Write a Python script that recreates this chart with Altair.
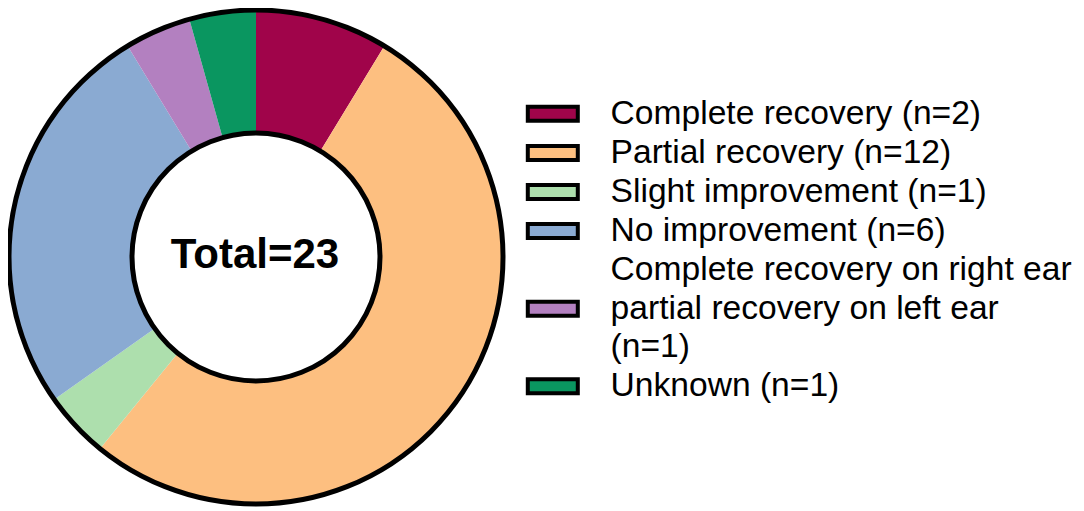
import altair as alt
import pandas as pd

categories = [
    "Complete recovery (n=2)",
    "Partial recovery (n=12)",
    "Slight improvement (n=1)",
    "No improvement (n=6)",
    "Complete recovery on right ear|partial recovery on left ear|(n=1)",
    "Unknown (n=1)",
]
counts = [2, 12, 1, 6, 1, 1]
colors = ["#A0044A", "#FDBF80", "#ADDFAD", "#8AAAD2", "#B380C0", "#0A9660"]
center_label = ["Total=23"]

# legend swatch shapes (the multi-line entry's swatch sits on its middle line)
swatch = "M-2,-0.56H2V0.56H-2Z"
swatch_mid = "M-2,2.52H2V3.64H-2Z"
shapes = [swatch, swatch, swatch, swatch, swatch_mid, swatch]

df = pd.DataFrame({"category": categories, "count": counts, "order": list(range(len(categories)))})

CX, CY = 248, 249
R_OUT, R_IN = 247, 124

legend_opts = dict(
    orient="none",
    legendX=528,
    legendY=89,
    title=None,
    padding=0,
    labelFont="Arial",
    labelFontSize=33.6,
    labelColor="black",
    labelLimit=600,
    labelExpr="split(datum.label, '|')",
    labelOffset=41,
    rowPadding=4.1,
    symbolSize=625,
    symbolStrokeWidth=4,
    symbolOpacity=1,
)

color_enc = alt.Color(
    "category:N",
    scale=alt.Scale(domain=categories, range=colors),
    legend=alt.Legend(**legend_opts),
)

slices = alt.Chart(df).mark_arc(outerRadius=R_OUT, innerRadius=R_IN).encode(
    theta=alt.Theta("count:Q", stack=True),
    order=alt.Order("order:Q"),
    color=color_enc,
    x=alt.value(CX),
    y=alt.value(CY),
)

keys = alt.Chart(df).mark_point(filled=True, opacity=0, stroke="black", strokeWidth=4).encode(
    color=color_enc,
    shape=alt.Shape(
        "category:N",
        scale=alt.Scale(domain=categories, range=shapes),
        legend=alt.Legend(**legend_opts),
    ),
    x=alt.value(CX),
    y=alt.value(CY),
)

ring = alt.Chart(pd.DataFrame({"v": [1]})).mark_arc(
    outerRadius=R_OUT, innerRadius=R_IN, fill="white", fillOpacity=0,
    stroke="black", strokeWidth=5
).encode(theta=alt.Theta("v:Q"), x=alt.value(CX), y=alt.value(CY))

text = alt.Chart(pd.DataFrame({"t": center_label})).mark_text(
    font="Arial", fontSize=42, fontWeight="bold", color="black", align="center", baseline="middle"
).encode(text="t:N", x=alt.value(CX - 1), y=alt.value(CY - 2))

chart = alt.layer(keys, slices, ring, text).resolve_scale(theta="independent").properties(
    width=1068, height=500, autosize=alt.AutoSizeParams(type="none"), padding=0
).configure(
    style={"guide-label": {"lineHeight": 38.5}}
).configure_view(strokeWidth=0)

chart.save("out.html", embed_options={"renderer": "svg", "actions": False})
